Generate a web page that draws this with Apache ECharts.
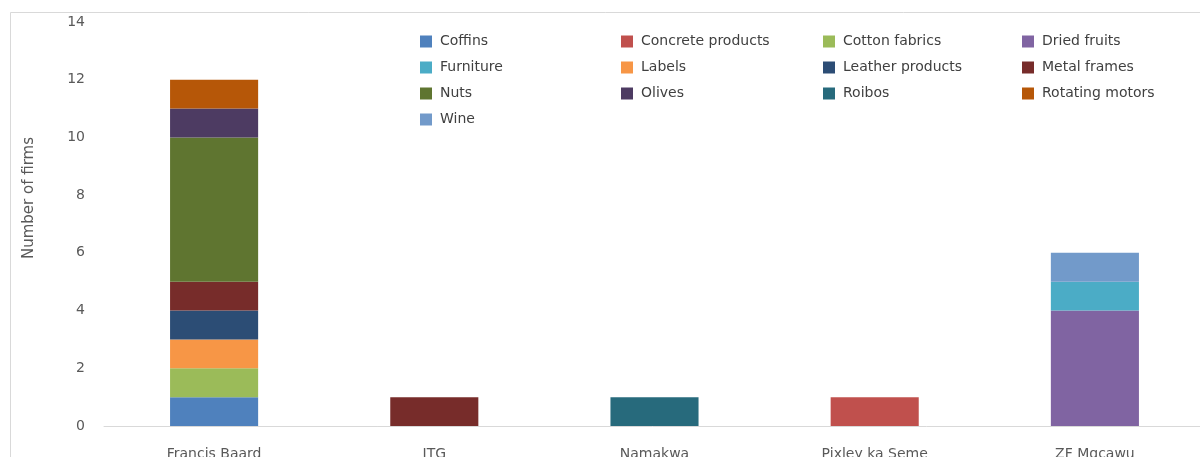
<!DOCTYPE html>
<html>
<head>
<meta charset="utf-8">
<style>
  html, body { margin: 0; padding: 0; background: #ffffff; }
  #chart { width: 1200px; height: 457px; }
</style>
<script src="https://cdn.jsdelivr.net/npm/echarts@6/dist/echarts.min.js"></script>
</head>
<body>
<div id="chart"></div>
<script>
// Districts along the category axis
const regions = ['Francis Baard', 'JTG', 'Namakwa', 'Pixley ka Seme', 'ZF Mgcawu'];

// Number of firms per product, by district (null = none)
const coffins          = [1, null, null, null, null];
const concreteProducts = [null, null, null, 1, null];
const cottonFabrics    = [1, null, null, null, null];
const driedFruits      = [null, null, null, null, 4];
const furniture        = [null, null, null, null, 1];
const labels           = [1, null, null, null, null];
const leatherProducts  = [1, null, null, null, null];
const metalFrames      = [1, 1, null, null, null];
const nuts             = [5, null, null, null, null];
const olives           = [1, null, null, null, null];
const roibos           = [null, null, 1, null, null];
const rotatingMotors   = [1, null, null, null, null];
const wine             = [null, null, null, null, 1];

// Value axis ticks
const yTicks = [0, 2, 4, 6, 8, 10, 12, 14];

const productSeries = [
  ['Coffins', coffins, '#4F81BD'],
  ['Concrete products', concreteProducts, '#C0504D'],
  ['Cotton fabrics', cottonFabrics, '#9BBB59'],
  ['Dried fruits', driedFruits, '#8064A2'],
  ['Furniture', furniture, '#4BACC6'],
  ['Labels', labels, '#F79646'],
  ['Leather products', leatherProducts, '#2C4D75'],
  ['Metal frames', metalFrames, '#772C2A'],
  ['Nuts', nuts, '#5F7530'],
  ['Olives', olives, '#4D3B62'],
  ['Roibos', roibos, '#276A7C'],
  ['Rotating motors', rotatingMotors, '#B65708'],
  ['Wine', wine, '#729ACA']
];

const legendColumns = [
  ['Coffins', 'Furniture', 'Nuts', 'Wine'],
  ['Concrete products', 'Labels', 'Olives'],
  ['Cotton fabrics', 'Leather products', 'Roibos'],
  ['Dried fruits', 'Metal frames', 'Rotating motors']
];
const legendLeft = [420, 621, 823, 1022];

const FONT = 'DejaVu Sans';
const TEXT = '#595959';

const chart = echarts.init(document.getElementById('chart'), null, { renderer: 'canvas' });

chart.setOption({
  backgroundColor: '#ffffff',
  animation: false,
  textStyle: { fontFamily: FONT },
  // The plot area runs a little past the right edge of the canvas
  grid: { left: 104, width: 1101, top: 22, height: 404, containLabel: false, outerBoundsMode: 'none' },
  legend: legendColumns.map((col, i) => ({
    data: col,
    orient: 'vertical',
    left: legendLeft[i],
    top: 34,
    padding: 0,
    itemWidth: 12,
    itemHeight: 12,
    itemGap: 11,
    icon: 'rect',
    selectedMode: false,
    textStyle: { fontFamily: FONT, fontSize: 14, color: '#404040', lineHeight: 15, padding: [0, 0, 0, 3] }
  })),
  xAxis: {
    type: 'category',
    data: regions,
    axisLine: { lineStyle: { color: '#D9D9D9', width: 1 } },
    axisTick: { show: false },
    axisLabel: { color: TEXT, fontSize: 14, fontFamily: FONT, margin: 21, interval: 0 }
  },
  yAxis: {
    type: 'value',
    min: yTicks[0],
    max: yTicks[yTicks.length - 1],
    interval: yTicks[1] - yTicks[0],
    axisLine: { show: false },
    axisTick: { show: false },
    splitLine: { show: false },
    axisLabel: { color: TEXT, fontSize: 14, fontFamily: FONT, margin: 19 }
  },
  graphic: [
    {
      type: 'rect',
      silent: true,
      shape: { x: 10.5, y: 12.5, width: 1400, height: 600 },
      style: { fill: 'none', stroke: '#D9D9D9', lineWidth: 1 }
    },
    {
      type: 'text',
      silent: true,
      x: 29,
      y: 198,
      rotation: Math.PI / 2,
      style: {
        text: 'Number of firms',
        fill: TEXT,
        font: '15px "DejaVu Sans"',
        align: 'center',
        verticalAlign: 'middle'
      }
    }
  ],
  series: productSeries.map(([name, values, color]) => ({
    name,
    type: 'bar',
    stack: 'firms',
    barWidth: '40%',
    data: values,
    itemStyle: { color }
  }))
});
</script>
</body>
</html>
